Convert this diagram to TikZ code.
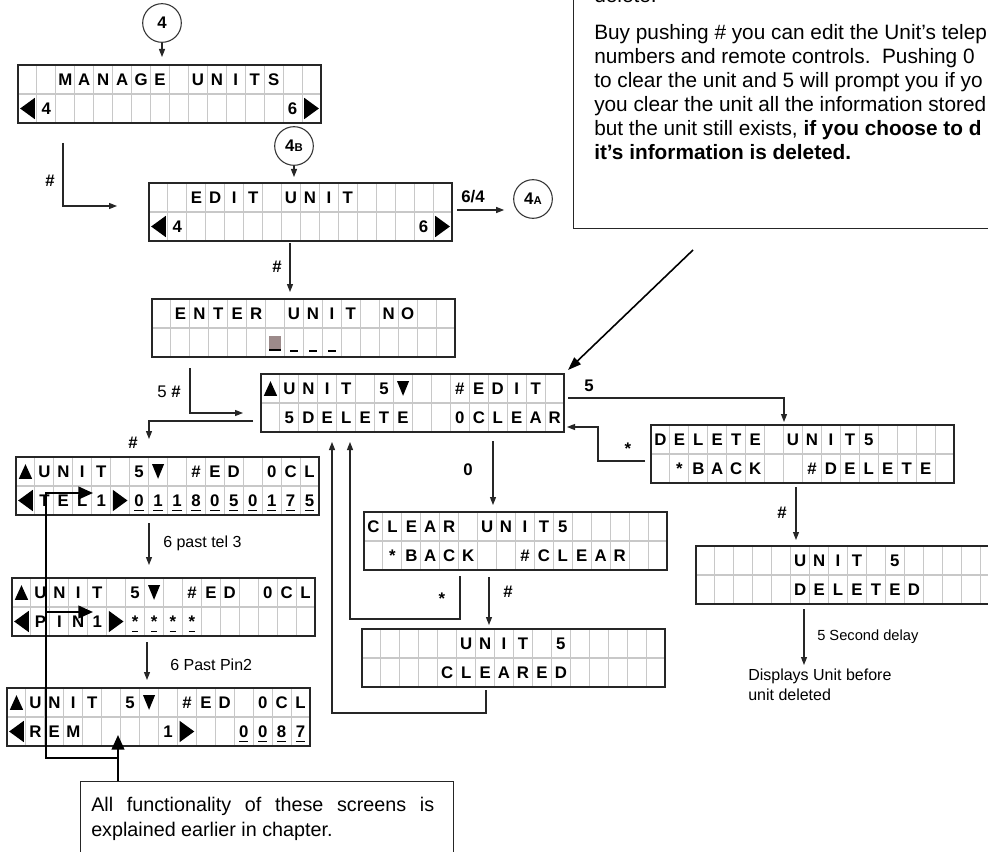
\documentclass[tikz,border=0pt]{standalone}
\usepackage{fontspec}
\setmainfont{Liberation Sans}
\usetikzlibrary{arrows.meta}

\definecolor{cursorgrey}{HTML}{9C8A8A}
\definecolor{gridgrey}{HTML}{C8C8C8}

% one LCD cell is 18.94 units wide, a row is 29 units high
\def\cw{18.94}

% special LCD glyphs, centred on the cell
\newcommand\lcdL{\tikz[baseline=-4.5pt]\fill (5.5pt,-8pt) -- (-5.5pt,0pt) -- (5.5pt,8pt) -- cycle;}
\newcommand\lcdR{\tikz[baseline=-4.5pt]\fill (-5.5pt,-8pt) -- (5.5pt,0pt) -- (-5.5pt,8pt) -- cycle;}
\newcommand\lcdU{\tikz[baseline=-4.5pt]\fill (-5pt,-5.5pt) -- (0pt,5.5pt) -- (5pt,-5.5pt) -- cycle;}
\newcommand\lcdD{\tikz[baseline=-4.5pt]\fill (-4.5pt,5.5pt) -- (0pt,-5.5pt) -- (4.5pt,5.5pt) -- cycle;}
\newcommand\lcdcur{\tikz[baseline=-4.5pt]{\fill[cursorgrey] (-4.5pt,-6pt) rectangle (4.5pt,5pt);
  \fill (-4.5pt,-6.6pt) rectangle (4.5pt,-5pt);}}
\newcommand\lcdus{\tikz[baseline=-4.5pt]{\path (-3pt,-6pt) rectangle (3pt,6pt);
  \fill (-3pt,-7pt) rectangle (3pt,-5.6pt);}}
\newcommand\lcdul[1]{\setbox0\hbox{#1}\rlap{\rule[-3.6pt]{\wd0}{1.2pt}}\box0}

% \lcd{name}{x}{y}{top row}{bottom row}
\newcommand\lcd[5]{%
  \node[lcdscreen] (#1) at (#2,#3) {};
  \foreach \k in {1,...,15}
    \draw[lcdgrid] (#2+\k*\cw,#3) -- (#2+\k*\cw,#3+58);
  \draw[lcdgrid] (#2,#3+29) -- (#2+303,#3+29);
  \foreach \ch [count=\k from 0] in {#4}
    \node[lcdchar] at (#2+\k*\cw+0.5*\cw,#3+14.5) {\ch};
  \foreach \ch [count=\k from 0] in {#5}
    \node[lcdchar] at (#2+\k*\cw+0.5*\cw,#3+43.5) {\ch};
  \draw[lcdframe] (#1.north west) rectangle (#1.south east);
}

\tikzset{
  lcdscreen/.style={anchor=north west, minimum width=227.25pt, minimum height=43.5pt,
    inner sep=0pt, outer sep=0pt},
  lcdgrid/.style={draw=gridgrey, line width=0.8pt},
  lcdframe/.style={draw=black!85, line width=1.5pt},
  lcdchar/.style={inner sep=0pt, text height=9pt, text depth=0pt,
    font=\bfseries\fontsize{12.6}{14}\selectfont},
  conn/.style={draw=black!85, line width=0.8pt},
  arr/.style={conn, -{Triangle[length=6pt,width=4.5pt]}},
  bigarr/.style={draw=black, line width=1.6pt, -{Triangle[length=11pt,width=9.5pt]}},
  pointer/.style={draw=black, line width=1.2pt, -{Triangle[length=10pt,width=7pt]}},
  entrymark/.style={circle, draw=black!80, line width=0.8pt, minimum size=29pt, inner sep=0pt,
    font=\bfseries\fontsize{12.6}{14}\selectfont},
  key/.style={inner sep=0pt, font=\bfseries\fontsize{12.6}{14}\selectfont},
  side/.style={inner sep=0pt, anchor=west, font=\fontsize{12}{15}\selectfont},
  infoline/.style={inner sep=0pt, anchor=base west, font=\fontsize{15.6}{18}\selectfont},
}

\begin{document}
\begin{tikzpicture}[x=0.75pt, y=-0.75pt]
\useasboundingbox (0,0) rectangle (988,852);
\clip (0,0) rectangle (988,852);
\fill[white] (0,0) rectangle (988,852);

% screens
\lcd{manage}{18}{65}{{},{},M,A,N,A,G,E,{},U,N,I,T,S}
  {\lcdL,4,{},{},{},{},{},{},{},{},{},{},{},{},6,\lcdR}
\lcd{edit}{149}{183}{{},{},E,D,I,T,{},U,N,I,T}
  {\lcdL,4,{},{},{},{},{},{},{},{},{},{},{},{},6,\lcdR}
\lcd{enter}{152}{299}{{},E,N,T,E,R,{},U,N,I,T,{},N,O}
  {{},{},{},{},{},{},\lcdcur,\lcdus,\lcdus,\lcdus}
\lcd{unit}{261}{374}{\lcdU,U,N,I,T,{},5,\lcdD,{},{},\#,E,D,I,T}
  {{},5,D,E,L,E,T,E,{},{},0,C,L,E,A,R}
\lcd{delete}{651}{425}{D,E,L,E,T,E,{},U,N,I,T,5}
  {{},*,B,A,C,K,{},{},\#,D,E,L,E,T,E}
\lcd{deleted}{696}{546}{{},{},{},{},{},U,N,I,T,{},5}
  {{},{},{},{},{},D,E,L,E,T,E,D}
\lcd{clear}{364}{512}{C,L,E,A,R,{},U,N,I,T,5}
  {{},*,B,A,C,K,{},{},\#,C,L,E,A,R}
\lcd{cleared}{362}{629}{{},{},{},{},{},U,N,I,T,{},5}
  {{},{},{},{},C,L,E,A,R,E,D}
\lcd{tel}{16}{457}{\lcdU,U,N,I,T,{},5,\lcdD,{},\#,E,D,{},0,C,L}
  {\lcdL,T,E,L,1,\lcdR,\lcdul{0},\lcdul{1},\lcdul{1},\lcdul{8},\lcdul{0},\lcdul{5},\lcdul{0},\lcdul{1},\lcdul{7},\lcdul{5}}
\lcd{pin}{12}{578}{\lcdU,U,N,I,T,{},5,\lcdD,{},\#,E,D,{},0,C,L}
  {\lcdL,P,I,N,1,\lcdR,\lcdul{*},\lcdul{*},\lcdul{*},\lcdul{*}}
\lcd{rem}{7}{688}{\lcdU,U,N,I,T,{},5,\lcdD,{},\#,E,D,{},0,C,L}
  {\lcdL,R,E,M,{},{},{},{},1,\lcdR,{},{},\lcdul{0},\lcdul{0},\lcdul{8},\lcdul{7}}

% entry points
\node[entrymark] (m4) at (162,23) {4};
\node[entrymark] (m4b) at (294,146) {4{\fontsize{8.5}{9}\selectfont B}};
\node[entrymark] (m4a) at (533,199) {4{\fontsize{8.5}{9}\selectfont A}};

% text boxes
\node[draw=black!85, line width=1.1pt, anchor=south west, minimum width=330pt,
  minimum height=200pt, inner sep=0pt] (info) at (573,229) {};
\node[infoline] (i0) at (594,3) {delete.};
\node[infoline] (i1) at (594,40) {Buy pushing \# you can edit the Unit’s telep};
\node[infoline] (i2) at (594,64) {numbers and remote controls.\ \ Pushing 0};
\node[infoline] (i3) at (594,88) {to clear the unit and 5 will prompt you if yo};
\node[infoline] (i4) at (594,112) {you clear the unit all the information stored};
\node[infoline] (i5) at (594,136) {but the unit still exists, \textbf{if you choose to d}};
\node[infoline] (i6) at (594,160) {\textbf{it’s information is deleted.}};

\node[draw=black!85, line width=1.1pt, anchor=north west, minimum width=279.75pt,
  minimum height=75pt, inner sep=0pt] (note) at (80,781) {};
\node[anchor=north west, inner sep=0pt, text width=257.25pt, align=justify,
  font=\fontsize{14.8}{18.75}\selectfont] (notetext) at (91,797)
  {\hyphenpenalty=10000 All functionality of these screens is\linebreak
   explained earlier in chapter.\par};

% key presses
\draw[arr, shorten >=6pt] (m4) -- (m4 |- manage.north);
\draw[arr, shorten >=4.5pt] (m4b) -- (m4b |- edit.north);
\draw[arr] ([shift={(45,20)}]manage.south west) |- ([shift={(-32,-6)}]edit.west);
\node[key] (k1) at (50,181) {\#};
\draw[arr] ([shift={(5,-2)}]edit.east) -- ([shift={(-9,11)}]m4a.west);
\node[key] (k2) at (473,197) {6/4};
\draw[arr] ([shift={(141,2)}]edit.south west) -- ([shift={(138,-7)}]enter.north west);
\node[key] (k3) at (277,267) {\#};
\draw[arr] ([shift={(38,11)}]enter.south west) |- ([shift={(-18,10)}]unit.west);
\node[inner sep=0pt, font=\fontsize{12.6}{14}\selectfont] (k4) at (169,392) {5 \textbf{\#}};
\draw[arr] ([shift={(-8,18)}]unit.west) -| ([shift={(133,-18)}]tel.north west);
\node[key] (k5) at (133,443) {\#};
\draw[arr] ([shift={(4,-5)}]unit.east) -| ([shift={(133,-3)}]delete.north west);
\node[key] (k6) at (589,386) {5};
\draw[arr] ([shift={(-6,7)}]delete.west) -- ++(-47,0) |- ([shift={(3,24)}]unit.east);
\node[key] (k7) at (628,449) {*};
\draw[arr] ([shift={(145,4)}]delete.south west) -- ([shift={(100,-6)}]deleted.north west);
\node[key] (k8) at (782,513) {\#};
\coordinate (back) at (804,665);
\draw[arr] ([shift={(108,5)}]deleted.south west) -- (back);
\node[side] (k9) at (817,637) {\fontsize{11}{13}\selectfont 5 Second delay};
\node[anchor=north west, inner sep=0pt, align=left, font=\fontsize{12}{15}\selectfont]
  (disp) at (748,669) {Displays Unit before\\unit deleted};
\draw[arr] ([shift={(232,9)}]unit.south west) -- ([shift={(129,-7)}]clear.north west);
\node[key] (k10) at (468,470) {0};
\draw[arr] ([shift={(125,7)}]clear.south west) -- ([shift={(127,-4)}]cleared.north west);
\node[key] (k11) at (508,592) {\#};
\draw[arr] ([shift={(96,6)}]clear.south west) -- ++(0,43) -| ([shift={(89,10)}]unit.south west);
\node[key] (k12) at (442,599) {*};
\draw[arr] ([shift={(124,3)}]cleared.south west) -- ++(0,23) -| ([shift={(71,10)}]unit.south west);
\draw[arr] ([shift={(133,8)}]tel.south west) -- ([shift={(137,-13)}]pin.north west);
\node[side] (k13) at (163,543) {6 past tel 3};
\draw[arr] ([shift={(135,6)}]pin.south west) -- ([shift={(140,-8)}]rem.north west);
\node[side] (k14) at (170,665) {6 Past Pin2};

% pointers from the text boxes
\draw[pointer] ([shift={(120,21)}]info.south west) -- ([shift={(4,-4)}]unit.north east);
\draw[bigarr] ([shift={(38,0)}]note.north west) -- ([shift={(111,-11)}]rem.south west);
\draw[bigarr] ([shift={(38,-23)}]note.north west) -- ++(-72,0) |- ([shift={(77,36)}]tel.north west);
\draw[bigarr] ([shift={(34,34)}]pin.north west) -- ([shift={(81,34)}]pin.north west);
\end{tikzpicture}
\end{document}
